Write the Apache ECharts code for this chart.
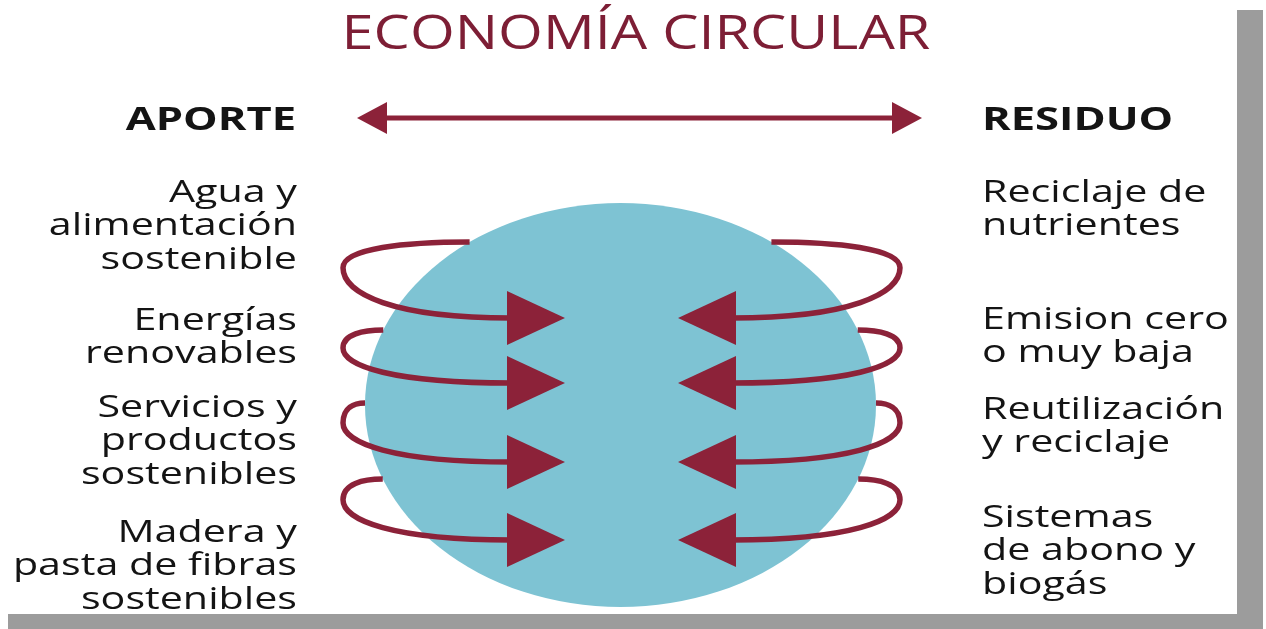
<!DOCTYPE html>
<html>
<head>
<meta charset="utf-8">
<title>Economía circular</title>
<script src="https://cdn.jsdelivr.net/npm/echarts@6/dist/echarts.min.js"></script>
<style>
  html, body { margin: 0; padding: 0; background: #fff; }
  #main { width: 1266px; height: 629px; }
</style>
</head>
<body>
<div id="main"></div>
<script>
// textos
var titleText = 'ECONOMÍA CIRCULAR';
var headAporte = 'APORTE';
var headResiduo = 'RESIDUO';
var aporte = [
  ['Agua y', 'alimentación', 'sostenible'],
  ['Energías', 'renovables'],
  ['Servicios y', 'productos', 'sostenibles'],
  ['Madera y', 'pasta de fibras', 'sostenibles']
];
var residuo = [
  ['Reciclaje de', 'nutrientes'],
  ['Emision cero', 'o muy baja'],
  ['Reutilización', 'y reciclaje'],
  ['Sistemas', 'de abono y', 'biogás']
];
// bucles: y del borde superior y y de la flecha
var loopTop = [242, 330, 403, 479];
var loopArrow = [318, 383, 462, 540];

// layout
var aporteRow = [193, 321, 408, 533];
var residuoRow = [193, 320, 410, 518];
var lineGap = 33.5;
var ball = {cx: 620.5, cy: 405, rx: 255.5, ry: 202};
var mid = 621.5;          // eje de simetria de los bucles
var loopOut = 343;        // x extremo del bucle izquierdo
var tipX = 565, baseX = 507, headH = 27;

var red = '#8c2239';
var ink = '#141414';
var font = "'Open Sans', 'Noto Sans', sans-serif";

var myChart = echarts.init(document.getElementById('main'));

function txt(str, x, y, align, size, weight, color, sx) {
  return {
    type: 'text', x: x, y: y, scaleX: sx, z: 20,
    style: {
      text: str, fontSize: size, fontFamily: font, fontWeight: weight, fill: color,
      align: align, verticalAlign: 'middle', textAlign: align, textVerticalAlign: 'middle'
    }
  };
}

var graphics = [
  // sombra del marco
  {type: 'rect', z: 0, shape: {x: 8, y: 10, width: 1255, height: 619}, style: {fill: '#9c9c9c'}},
  {type: 'rect', z: 1, shape: {x: 0, y: 0, width: 1237, height: 614}, style: {fill: '#ffffff'}},
  txt(titleText, 636, 35, 'center', 48, 'normal', '#7d1e35', 1.2),
  txt(headAporte, 296, 121, 'right', 32, 'bold', ink, 1.36),
  txt(headResiduo, 982, 121, 'left', 32, 'bold', ink, 1.36),
  // flecha doble
  {type: 'line', z: 10, shape: {x1: 380, y1: 118, x2: 899, y2: 118}, style: {stroke: red, lineWidth: 5}},
  {type: 'polygon', z: 10, shape: {points: [[357, 118], [387, 102], [387, 134]]}, style: {fill: red}},
  {type: 'polygon', z: 10, shape: {points: [[922, 118], [892, 102], [892, 134]]}, style: {fill: red}}
];

aporte.forEach(function (lines, g) {
  lines.forEach(function (s, i) {
    graphics.push(txt(s, 297, aporteRow[g] + i * lineGap, 'right', 31, '500', ink, 1.33));
  });
});
residuo.forEach(function (lines, g) {
  lines.forEach(function (s, i) {
    graphics.push(txt(s, 982, residuoRow[g] + i * lineGap, 'left', 31, '500', ink, 1.33));
  });
});

function renderBall(params, api) {
  var c = api.coord([api.value(0), api.value(1)]);
  var s = api.size([ball.rx, ball.ry]);
  var p = 'M' + (c[0] - s[0]) + ',' + c[1] +
    ' A' + s[0] + ',' + s[1] + ' 0 1,0 ' + (c[0] + s[0]) + ',' + c[1] +
    ' A' + s[0] + ',' + s[1] + ' 0 1,0 ' + (c[0] - s[0]) + ',' + c[1] + ' Z';
  return {type: 'path', shape: {pathData: p}, style: {fill: '#7ec3d3'}};
}

function renderLoop(params, api) {
  var top = api.value(0), bot = api.value(1);
  var h = bot - top;
  var d = (top - ball.cy) / ball.ry;
  var half = ball.rx * Math.sqrt(Math.max(0, 1 - d * d));
  var children = [];
  [-1, 1].forEach(function (side) {
    var mx = function (x) { return side < 0 ? x : 2 * mid - x; };
    var xs = side < 0 ? ball.cx - half : 2 * mid - (ball.cx + half);
    var pts = [
      [xs, top],
      [loopOut + 0.5 * (xs - loopOut), top], [loopOut, top + 0.08 * h], [loopOut, top + 0.34 * h],
      [loopOut, top + 0.68 * h], [loopOut + 50, bot], [baseX + 4, bot]
    ].map(function (q) { return api.coord([mx(q[0]), q[1]]); });
    var path = 'M' + pts[0].join(',') +
      ' C' + pts[1].join(',') + ' ' + pts[2].join(',') + ' ' + pts[3].join(',') +
      ' C' + pts[4].join(',') + ' ' + pts[5].join(',') + ' ' + pts[6].join(',');
    children.push({type: 'path', shape: {pathData: path},
      style: {fill: null, stroke: red, lineWidth: 5.5}});
    var head = [[tipX, bot], [baseX, bot - headH], [baseX, bot + headH]].map(function (q) {
      return api.coord([mx(q[0]), q[1]]);
    });
    children.push({type: 'polygon', shape: {points: head}, style: {fill: red}});
  });
  return {type: 'group', children: children};
}

var option = {
  animation: false,
  backgroundColor: '#ffffff',
  grid: {left: 0, right: 0, top: 0, bottom: 0},
  xAxis: {type: 'value', min: 0, max: 1266, show: false},
  yAxis: {type: 'value', min: 0, max: 629, inverse: true, show: false},
  graphic: graphics,
  series: [
    {type: 'custom', z: 5, silent: true, renderItem: renderBall, data: [[ball.cx, ball.cy]]},
    {type: 'custom', z: 6, silent: true, renderItem: renderLoop,
      data: loopTop.map(function (t, i) { return [t, loopArrow[i]]; })}
  ]
};
myChart.setOption(option);
</script>
</body>
</html>
